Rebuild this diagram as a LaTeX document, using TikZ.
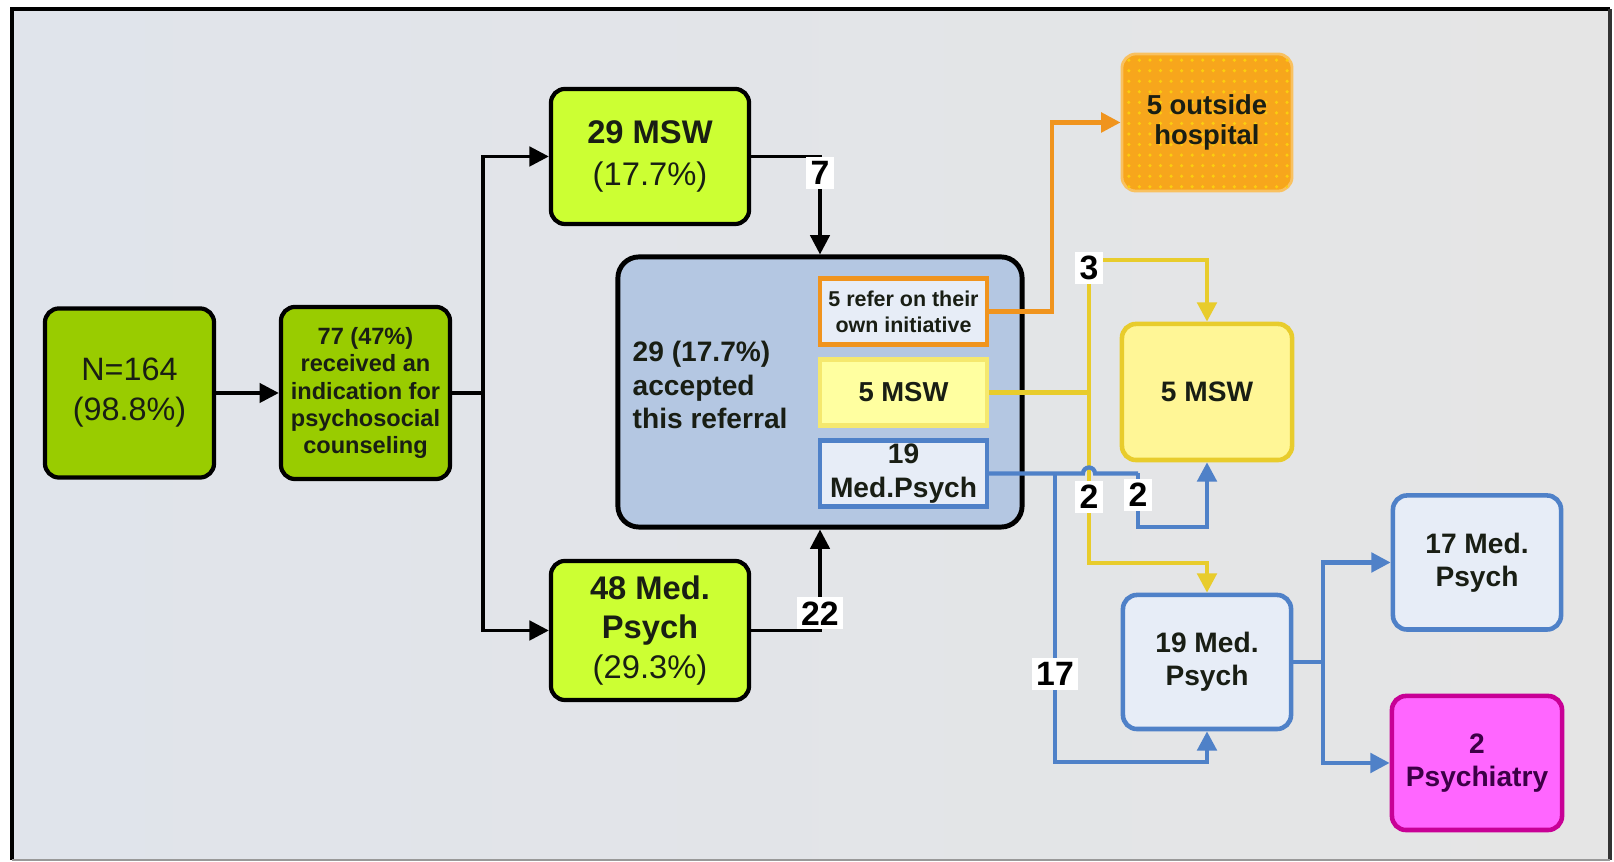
\documentclass[tikz,border=0pt]{standalone}
\usepackage{fontspec}
\setmainfont{Liberation Sans}
\usetikzlibrary{arrows.meta,patterns}

\definecolor{bgleft}{RGB}{224,228,235}
\definecolor{bgright}{RGB}{229,229,229}
\definecolor{darkgreen}{RGB}{153,204,0}
\definecolor{limegreen}{RGB}{204,255,51}
\definecolor{accblue}{RGB}{180,199,226}
\definecolor{paleblue}{RGB}{231,237,247}
\definecolor{medblue}{RGB}{79,129,200}
\definecolor{orgline}{RGB}{240,148,30}
\definecolor{orgfill}{RGB}{247,166,28}
\definecolor{yelline}{RGB}{232,204,44}
\definecolor{yelpale}{RGB}{245,232,110}
\definecolor{yelfill}{RGB}{255,255,160}
\definecolor{yelbox}{RGB}{255,246,150}
\definecolor{psyfill}{RGB}{255,102,255}
\definecolor{psyline}{RGB}{200,0,150}
\definecolor{psytext}{RGB}{60,0,70}
\definecolor{txt}{RGB}{25,30,20}

\tikzset{
    box/.style={draw, rounded corners=4pt, align=center, inner sep=0pt, text=txt},
    greenbox/.style={box, fill=darkgreen, line width=1.2pt, minimum width=1.69cm, minimum height=1.69cm},
    limebox/.style={box, fill=limegreen, line width=1.2pt, minimum width=1.98cm, minimum height=1.37cm},
    inbox/.style={draw, align=center, inner sep=0pt, line width=1.2pt, minimum width=1.67cm, minimum height=0.66cm, text=txt},
    bluebox/.style={box, draw=medblue, fill=paleblue, line width=1.3pt, minimum width=1.68cm, minimum height=1.34cm},
    num/.style={fill=white, inner sep=1.2pt, font=\fontsize{9.6}{10}\selectfont\bfseries, text=black},
    blk/.style={black, line width=1pt},
    org/.style={orgline, line width=1.2pt},
    ylw/.style={yelline, line width=1.2pt},
    blu/.style={medblue, line width=1.2pt}
}

\begin{document}
\begin{tikzpicture}[x=0.01cm, y=-0.01cm, >={Triangle[length=5.5pt,width=5.5pt]}]
        \useasboundingbox (0,0) rectangle (1614,862);
        \fill[left color=bgleft, right color=bgright] (12,9) rectangle (1610,860);
        \draw[line width=1.3pt] (12,860) -- (12,9) -- (1610,9);
        \draw[line width=0.9pt, black!80] (1610,9) -- (1610,860);
        \draw[line width=0.5pt, black!40] (12,860) -- (1610,860);

        \node[greenbox, font=\fontsize{9.2}{11.4}\selectfont] (all) at (129.5,393) {N=164\\(98.8\%)};
        \node[greenbox, minimum height=1.72cm, font=\fontsize{6.7}{7.7}\selectfont\bfseries] (ind) at (365.5,393)
            {77 (47\%)\\received an\\indication for\\psychosocial\\counseling};
        \node[limebox, minimum height=1.35cm, font=\fontsize{9.3}{12}\selectfont] (msw29) at (650,156.5) {\textbf{29 MSW}\\(17.7\%)};
        \node[limebox, minimum height=1.39cm, font=\fontsize{9.3}{11.2}\selectfont] (med48) at (650,630.5) {\textbf{48 Med.}\\\textbf{Psych}\\(29.3\%)};

        \node[box, draw=black, fill=accblue, line width=1.4pt, rounded corners=6pt, minimum width=4.04cm, minimum height=2.70cm] (acc) at (820,392) {};
        \node[anchor=west, align=left, inner sep=0pt, text=txt, font=\fontsize{8}{9.4}\selectfont\bfseries] (acctxt) at (632,385) {29 (17.7\%)\\accepted\\this referral};
        \node[inbox, draw=orgline, fill=paleblue, font=\fontsize{6.1}{7.4}\selectfont\bfseries] (refer) at (903.5,311.5) {5 refer on their\\own initiative};
        \node[inbox, draw=yelpale, fill=yelfill, font=\fontsize{7.8}{9}\selectfont\bfseries] (mswin) at (903.5,392.5) {5 MSW};
        \node[inbox, draw=medblue, fill=paleblue, font=\fontsize{8}{9.5}\selectfont\bfseries] (medin) at (903.5,473.5) {19\\Med.Psych};

        \node[box, draw=orgfill!70!white, fill=orgfill, postaction={pattern=dots, pattern color=yellow!45!orgfill}, line width=0.8pt,
            minimum width=1.70cm, minimum height=1.37cm, font=\fontsize{7.8}{8.6}\selectfont\bfseries] (outh) at (1207,122.5) {5 outside\\hospital};
        \node[box, draw=yelline, fill=yelbox, line width=1.3pt, minimum width=1.70cm, minimum height=1.36cm,
            font=\fontsize{8}{9.5}\selectfont\bfseries] (msw5) at (1207,392) {5 MSW};
        \node[bluebox, font=\fontsize{8}{9.5}\selectfont\bfseries] (med19) at (1207,662) {19 Med.\\Psych};
        \node[bluebox, font=\fontsize{8}{9.5}\selectfont\bfseries] (med17) at (1477,562.5) {17 Med.\\Psych};
        \node[box, draw=psyline, fill=psyfill, text=psytext, line width=1.3pt, minimum width=1.70cm, minimum height=1.34cm,
            font=\fontsize{8}{9.5}\selectfont\bfseries] (psy) at (1477,763) {2\\Psychiatry};

        \draw[blk, ->] (all) -- (ind);
        \draw[blk] (ind) -- (483,393) coordinate (fork);
        \draw[blk, ->] (fork) |- (msw29);
        \draw[blk, ->] (fork) |- (med48);
        \draw[blk, ->] (msw29) -| node[num, pos=0.585] (l7) {7} (acc);
        \draw[blk, ->] (med48) -| node[num, pos=0.585] (l22) {22} (acc);

        \draw[org, ->] (refer) -- (1052,311.5) |- (outh);

        \draw[ylw] (mswin) -- (1089,392.5) coordinate (ysplit);
        \draw[ylw, ->] (ysplit) -- (1089,260) -| (msw5);
        \draw[ylw, ->] (ysplit) -- (1089,563) -| (med19);

        \draw[blu] (medin) -- (1083,473.5) arc[start angle=180, end angle=0, radius=0.06cm] -- (1138,473.5) coordinate (bturn);
        \draw[blu, ->] (bturn) -- (1138,527) -| (msw5);
        \draw[blu, ->] (1055,473.5) coordinate (bdown) -- (1055,762) -| (med19);

        \draw[blu] (med19) -- (1323,662) coordinate (bfork);
        \draw[blu, ->] (bfork) |- (med17);
        \draw[blu, ->] (bfork) |- (psy);

        \node[num] (l3) at (1089,268) {3};
        \node[num] (l2a) at (1089,497) {2};
        \node[num] (l2b) at (1138,495) {2};
        \node[num] (l17) at (1055,674) {17};
    \end{tikzpicture}
\end{document}
